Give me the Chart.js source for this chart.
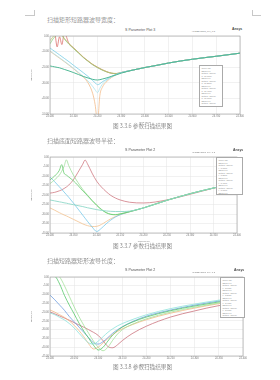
<!DOCTYPE html>
<html><head><meta charset="utf-8">
<script src="https://cdn.jsdelivr.net/npm/chart.js@4/dist/chart.umd.min.js"></script>
<style>
html,body{margin:0;padding:0;background:#fff;width:280px;height:380px;overflow:hidden;position:relative;}
.t{position:absolute;font-family:"Noto Sans CJK SC","Noto Sans",sans-serif;color:#5a5a5a;white-space:nowrap;line-height:1;font-weight:300;}
.body{font-size:6px;}
.cap{font-size:5.6px;}
.ttl{position:absolute;font-family:"Liberation Sans",Arial,sans-serif;font-size:3.6px;color:#555;white-space:nowrap;line-height:1;}
.sub{position:absolute;font-family:"Liberation Sans",Arial,sans-serif;font-size:2.2px;color:#777;white-space:nowrap;line-height:1;}
.logo{position:absolute;font-family:"Liberation Sans",Arial,sans-serif;font-size:3.4px;font-weight:bold;color:#444;white-space:nowrap;line-height:1;}
.leg{position:absolute;background:#fff;border:0.5px solid #aaa;font-family:"Liberation Sans",Arial,sans-serif;font-size:2px;line-height:2.5px;color:#888;padding:1px 1.5px;box-sizing:border-box;overflow:hidden;white-space:nowrap;}
.mark{position:absolute;background:#c8c8c8;}
canvas{position:absolute;}
</style></head><body>

<div class="mark" style="left:25px;top:15px;width:9px;height:0.6px"></div>
<div class="mark" style="left:33.5px;top:10px;width:0.6px;height:5.6px"></div>
<div class="mark" style="left:252px;top:15px;width:9px;height:0.6px"></div>
<div class="mark" style="left:252px;top:10px;width:0.6px;height:5.6px"></div>

<div class="t body" style="left:47px;top:17px">扫描矩形短路器波导宽度：</div>
<div class="ttl" style="left:125px;top:28.5px">S Parameter Plot 3</div>
<div class="sub" style="left:192px;top:30px">HFSSDesign1_Tee_T-3</div>
<div class="logo" style="left:232px;top:28px">Ansys</div>
<canvas id="c1" width="216" height="91" style="left:30px;top:33px"></canvas>
<div class="leg" id="l1" style="left:199px;top:65px;width:24px;height:42px"></div>
<div class="t cap" style="left:113px;top:124px">图 3.3.6 参数扫描结果图</div>

<div class="t body" style="left:47px;top:138px">扫描底面短路器波导半径：</div>
<div class="ttl" style="left:125px;top:149px">S Parameter Plot 2</div>
<div class="sub" style="left:192px;top:150.5px">HFSSDesign1_Tee_T-3</div>
<div class="logo" style="left:233px;top:148.5px">Ansys</div>
<canvas id="c2" width="213" height="89" style="left:30px;top:154px"></canvas>
<div class="leg" id="l2" style="left:216px;top:157px;width:27px;height:38px"></div>
<div class="t cap" style="left:113px;top:244px">图 3.3.7 参数扫描结果图</div>

<div class="t body" style="left:47px;top:258px">扫描短路器矩形波导长度：</div>
<div class="ttl" style="left:125px;top:269px">S Parameter Plot 2</div>
<div class="sub" style="left:192px;top:270.5px">HFSSDesign1_Tee_T-3</div>
<div class="logo" style="left:234px;top:268.5px">Ansys</div>
<canvas id="c3" width="219" height="92" style="left:30px;top:274px"></canvas>
<div class="leg" id="l3" style="left:220px;top:277px;width:25px;height:41px"></div>
<div class="t cap" style="left:113px;top:365px">图 3.3.8 参数扫描结果图</div>

<script>
// ---------- Chart 1 : width sweep ----------
const freq1 = [24.00,24.01,24.02,24.03,24.04,24.05,24.06,24.08,24.10,24.12,24.14,24.16,24.18,24.19,24.20,24.21,24.22,24.24,24.26,24.28,24.30,24.35,24.40,24.45,24.50,24.55,24.60,24.65,24.70,24.75,24.80];
const c1Red    = [3,3,2,-7.0,-0.5,-5.5,2,-4.9,-7.8,-10.6,-13.6,-16.0,-18.3,-19.2,-20.1,-20.9,-21.7,-23.0,-23.9,-24.1,-23.4,-21.8,-20.2,-18.8,-17.3,-16.0,-14.9,-13.9,-13.0,-12.0,-11.0];
const c1Olive  = [-3,-1,0.8,1.8,1.8,0.8,-1.5,-4.8,-7.7,-10.5,-13.5,-15.9,-18.2,-19.1,-20.0,-20.8,-21.6,-22.9,-23.8,-24.0,-23.4,-21.8,-20.2,-18.8,-17.3,-16.0,-14.9,-13.9,-13.0,-12.0,-11.0];
const c1Green  = [-5,-2.5,-0.5,1.0,1.2,0.5,-1.8,-5.3,-8.2,-11.0,-13.8,-16.2,-18.5,-19.4,-20.3,-21.1,-21.9,-23.1,-23.9,-24.1,-23.5,-21.8,-20.2,-18.8,-17.3,-16.0,-14.9,-13.9,-13.0,-12.0,-11.0];
const c1Cyan   = [-7.7,-8.8,-9.9,-11.0,-12.1,-13.2,-14.3,-16.5,-18.9,-21.2,-23.5,-25.9,-28.6,-30.0,-31.2,-30.6,-29.4,-27.6,-25.8,-24.5,-23.4,-21.8,-20.2,-18.8,-17.3,-16.0,-14.9,-13.9,-13.0,-12.0,-11.0];
const c1Pale   = [-9.5,-10.6,-11.7,-12.8,-13.9,-15.0,-16.1,-18.4,-20.8,-23.3,-25.9,-28.8,-32.4,-34.5,-36.3,-33.5,-31.0,-28.2,-26.2,-24.7,-23.5,-21.8,-20.2,-18.8,-17.3,-16.0,-14.9,-13.9,-13.0,-12.0,-11.0];
const c1Orange = [-9.8,-10.9,-12.0,-13.1,-14.2,-15.3,-16.4,-18.7,-21.1,-23.7,-26.4,-30.0,-37.0,-44.0,-55.0,-38.0,-33.0,-29.0,-26.5,-24.8,-23.5,-21.8,-20.2,-18.8,-17.3,-16.0,-14.9,-13.9,-13.0,-12.0,-11.0];
const c1Low    = [-19.2,-19.5,-19.8,-20.1,-20.4,-20.9,-21.4,-22.4,-23.5,-24.7,-25.9,-26.9,-27.8,-28.1,-28.2,-28.0,-27.6,-26.8,-25.8,-24.8,-23.8,-21.8,-20.2,-18.8,-17.3,-16.0,-14.9,-13.9,-13.0,-12.0,-11.0];
const c1XTicks = [24.0, 24.8, 0.1];
const c1YTicks = [-50, 0, 10];

// ---------- Chart 2 : radius sweep ----------
const freq2 = [24.00,24.01,24.02,24.025,24.03,24.035,24.04,24.05,24.06,24.07,24.075,24.08,24.09,24.10,24.11,24.12,24.13,24.14,24.15,24.17,24.20,24.25,24.30,24.35,24.40];
const c2Red    = [-19,-18.6,-17.8,-17.3,-16.6,-15.8,-14.8,-12,-8,-3.8,-1.6,-3.5,-8.5,-12.8,-15.8,-18.2,-20.2,-21.6,-22.6,-23.8,-24.2,-22.6,-19.6,-16.4,-13.7];
const c2Green  = [-12,-10,-7,-4,-8.5,-9.5,-10.5,-12.5,-15,-17.8,-19,-20.3,-23,-25.5,-27.7,-29.3,-30.2,-30.4,-30,-28.8,-26.8,-22.8,-19.3,-16.3,-13.7];
const c2Green2 = [-14,-12,-9.5,-7.5,-5,-1.5,-4.5,-9.5,-13.5,-17,-18.5,-20,-22.8,-25.3,-27.5,-29.2,-30.1,-30.3,-29.9,-28.7,-26.8,-22.8,-19.3,-16.3,-13.7];
const c2Cyan   = [-10.5,-13,-15.7,-17,-18.4,-19.8,-21.2,-24.2,-27.4,-30.6,-32.2,-33.8,-36.8,-39.2,-37.5,-35.2,-33.2,-31.6,-30.4,-28.8,-26.8,-22.8,-19.3,-16.3,-13.7];
const c2Orange = [-26.8,-28,-29.3,-29.9,-30.5,-31,-31.6,-32.8,-34,-35.2,-35.7,-36.1,-36.6,-36.5,-35.5,-34,-32.5,-31.3,-30.3,-28.9,-26.8,-22.8,-19.3,-16.3,-13.7];
const c2Pale   = [-22.6,-23.1,-23.6,-23.8,-24.1,-24.3,-24.6,-25.1,-25.6,-26.1,-26.4,-26.7,-27.2,-27.7,-28.1,-28.4,-28.6,-28.7,-28.7,-28.5,-26.8,-22.8,-19.3,-16.3,-13.7];
const c2XTicks = [24.0, 24.4, 0.05];
const c2YTicks = [-40, 0, 5];

// ---------- Chart 3 : length sweep ----------
const freq3 = [24.00,24.01,24.02,24.03,24.04,24.05,24.06,24.07,24.08,24.09,24.10,24.11,24.12,24.13,24.14,24.15,24.17,24.20,24.25,24.30,24.35,24.40];
const c3Green  = [1,0.5,-4,-10.5,-16,-21,-26.2,-30.8,-34.8,-38.8,-41.6,-40,-36.5,-33,-30.5,-28.5,-25.8,-22.8,-19.2,-16.5,-14.2,-12.2];
const c3Green2 = [2,2,0,-5,-11,-17,-22.5,-27.5,-32,-36.5,-40,-42,-40,-36,-32.5,-30,-27,-23.8,-20,-17.2,-14.8,-12.8];
const c3Blue   = [-10.3,-13,-16,-19,-22.5,-25.5,-28.5,-31.5,-34.5,-37.5,-38.2,-36.8,-34.5,-32,-30,-28.3,-25.5,-22.3,-18.8,-16,-13.7,-11.8];
const c3Red    = [-19.9,-21,-22.2,-23.4,-24.6,-26,-27.3,-28.6,-30,-31.5,-33.3,-36.3,-39.6,-40.3,-38.6,-36.2,-32.3,-28,-22.8,-19.3,-16.3,-14.5];
const c3Orange = [-18.8,-20,-21.5,-23,-25,-27.5,-30.5,-34,-38,-41,-40,-37.5,-35,-32.8,-31,-29.5,-27.2,-24.3,-20.6,-17.7,-15.2,-13.2];
const c3Pale   = [-20.5,-21.5,-23,-24.5,-26.5,-29,-32,-35,-37.5,-38.2,-36.5,-34,-31.5,-29.5,-27.8,-26.5,-24.3,-21.5,-18,-15.4,-13.2,-11.5];
const c3XTicks = [24.0, 24.4, 0.05];
const c3YTicks = [-45, 0, 5];

const legend1 = ["Curve Info","dB(S(1,1))","Setup1 : Sweep","a='10.0mm'","dB(S(1,1))","Setup1 : Sweep","a='10.2mm'","dB(S(1,1))","Setup1 : Sweep","a='10.4mm'","dB(S(1,1))","Setup1 : Sweep","a='10.6mm'","dB(S(1,1))","Setup1 : Sweep","a='10.8mm'"];
const legend2 = ["Curve Info","dB(S(1,1))","Setup1 : Sweep","r='3.0mm'","dB(S(1,1))","Setup1 : Sweep","r='3.2mm'","dB(S(1,1))","Setup1 : Sweep","r='3.4mm'","dB(S(1,1))","Setup1 : Sweep","r='3.6mm'","dB(S(1,1))","Setup1 : Sweep"];
const legend3 = ["Curve Info","dB(S(1,1))","Setup1 : Sweep","L='5.0mm'","dB(S(1,1))","Setup1 : Sweep","L='5.2mm'","dB(S(1,1))","Setup1 : Sweep","L='5.4mm'","dB(S(1,1))","Setup1 : Sweep","L='5.6mm'","dB(S(1,1))","Setup1 : Sweep","L='5.8mm'"];

function fillLegend(id, lines){ document.getElementById(id).innerHTML = lines.map(s=>'<div>'+s+'</div>').join(''); }
fillLegend('l1', legend1); fillLegend('l2', legend2); fillLegend('l3', legend3);

const frame = {
  id:'frame',
  afterDraw(chart){
    const a = chart.chartArea, ctx = chart.ctx;
    ctx.save(); ctx.strokeStyle = '#9a9a9a'; ctx.lineWidth = 0.6;
    ctx.strokeRect(a.left, a.top, a.right - a.left, a.bottom - a.top);
    ctx.restore();
  }
};

function ds(freqs, vals, color, w){
  return { data: freqs.map((f,i)=>({x:f, y:vals[i]})), borderColor: color, borderWidth: w || 0.75,
           pointRadius: 0, fill: false, cubicInterpolationMode: 'monotone' };
}

function make(id, datasets, xt, yt, yTitle, yAxisW, xAxisH, padR){
  new Chart(document.getElementById(id), {
    type: 'line',
    data: { datasets },
    options: {
      responsive: false, animation: false, events: [],
      layout: { padding: { top: 3, right: padR, left: 0, bottom: 0 } },
      plugins: { legend: { display: false }, tooltip: { enabled: false }, title: { display: false } },
      scales: {
        x: { type: 'linear', min: xt[0], max: xt[1],
             ticks: { stepSize: xt[2], font: { size: 2.6, family: 'Liberation Sans' }, color: '#777', padding: 1,
                      maxRotation: 0, autoSkip: false, callback: v => v.toFixed(3) },
             grid: { color: '#e2e2e2', lineWidth: 0.5, drawTicks: false },
             border: { display: false },
             title: { display: true, text: 'Freq [GHz]', font: { size: 2.4, family: 'Liberation Sans' }, color: '#777', padding: 0 },
             afterFit: s => { s.height = xAxisH; } },
        y: { min: yt[0], max: yt[1],
             ticks: { stepSize: yt[2], font: { size: 2.6, family: 'Liberation Sans' }, color: '#777', padding: 1,
                      autoSkip: false, callback: v => v.toFixed(2) },
             grid: { color: '#e2e2e2', lineWidth: 0.5, drawTicks: false },
             border: { display: false },
             title: { display: true, text: yTitle, font: { size: 2.4, family: 'Liberation Sans' }, color: '#777', padding: 0 },
             afterFit: s => { s.width = yAxisW; } }
      }
    },
    plugins: [frame]
  });
}

// Chart.js paints dataset 0 on top, so the top-most curve is listed first.
make('c1', [
  ds(freq1, c1Low, '#4fb895', 1.0),
  ds(freq1, c1Cyan, '#6fcbe4'),
  ds(freq1, c1Pale, '#a9e3ec'),
  ds(freq1, c1Orange, '#f2b783'),
  ds(freq1, c1Olive, '#c2bb6e'),
  ds(freq1, c1Green, '#86c977'),
  ds(freq1, c1Red, '#d96a66')
], c1XTicks, c1YTicks, 'dB(S(1,1))', 20, 10, 6);

make('c2', [
  ds(freq2, c2Pale, '#8fd8c8', 0.9),
  ds(freq2, c2Green, '#5ec866'),
  ds(freq2, c2Green2, '#9bdc97'),
  ds(freq2, c2Cyan, '#72c6e8'),
  ds(freq2, c2Orange, '#f2be88'),
  ds(freq2, c2Red, '#cc7079')
], c2XTicks, c2YTicks, 'dB(S(1,1))', 20, 10, 6);

make('c3', [
  ds(freq3, c3Pale, '#86e2da'),
  ds(freq3, c3Green, '#4cc462'),
  ds(freq3, c3Green2, '#9fdf95'),
  ds(freq3, c3Blue, '#6a9ade'),
  ds(freq3, c3Orange, '#f2b47e'),
  ds(freq3, c3Red, '#c86b75')
], c3XTicks, c3YTicks, 'dB(S(1,1))', 20, 10, 6);
</script>
</body></html>
